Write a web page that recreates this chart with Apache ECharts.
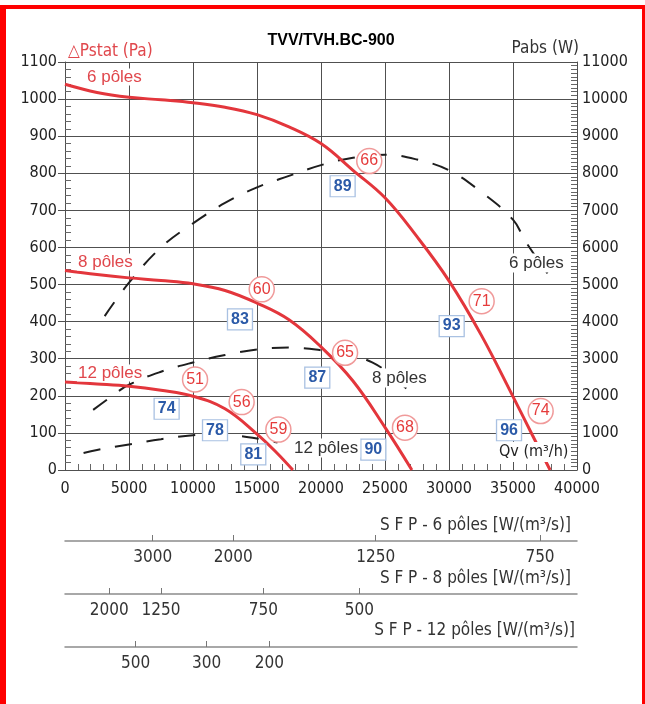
<!DOCTYPE html>
<html><head><meta charset="utf-8">
<script src="https://cdn.jsdelivr.net/npm/echarts@6/dist/echarts.min.js"></script>
<style>
html,body{margin:0;padding:0;background:#fff;}
#frame{position:absolute;left:0;top:5px;width:645px;height:720px;box-sizing:border-box;border-left:6px solid #f00;border-top:4px solid #f00;border-right:3px solid #f00;}
#chart{position:absolute;left:0;top:0;width:645px;height:704px;}
</style></head><body><div id="frame"></div><div id="chart"></div>
<script>
// ---- pressure curves (Qv m3/h -> Pa)
const flow6 = [0,2500,5000,7500,10000,12500,15000,17500,20000,22500,25000,27500,30000,32500,35000,36500,37900];
const pres6 = [1040,1018,1005,998,990,978,958,925,880,808,734,629,510,365,198,95,0];
const flow8 = [0,2500,5000,7500,10000,12500,15000,17500,20000,22500,25000,27100];
const pres8 = [538,527,518,511,502,484,450,405,332,240,115,0];
const flow12 = [0,2500,5000,7500,10000,12500,15000,16500,17800];
const pres12 = [237,232,226,215,199,165,97,48,0];
// ---- absorbed power curves (Qv m3/h -> W)
const flowP6 = [3100,5000,7500,10000,12500,15000,17500,20000,22500,25000,27500,30000,32500,35000,36000,37700];
const pow6 = [4150,5050,6000,6650,7200,7620,7930,8220,8420,8500,8370,8080,7500,6750,6150,5300];
const flowP8 = [2200,3500,5000,7500,10000,12500,15000,17500,20000,22500,24000,25500,27000];
const pow8 = [1620,1950,2300,2650,2900,3100,3250,3300,3230,3080,2900,2560,2080];
const flowP12 = [1450,2500,5000,7500,10000,12000,13500,15000,16600];
const pow12 = [460,540,690,830,940,960,925,850,740];
// ---- sound level circles [Qv, Pa, label]
const soundQ = [23770,15370,21880,10160,13800,16670,26560,32550,37160];
const soundP = [833,487,316,244,183,109,114,455,159];
const soundTxt = ['66','60','65','51','56','59','68','71','74'];
// ---- efficiency boxes
const effQ = [21690,13670,19710,7940,11720,14710,24090,30210,34690];
const effP = [765,406,249,165,107,42,55,388,107];
const effTxt = ['89','83','87','74','78','81','90','93','96'];
// ---- SFP scales (tick position in Qv, label)
const sfp6Flow = [6850,13150,24270,37110];
const sfp6Lab = ['3000','2000','1250','750'];
const sfp8Flow = [3460,7500,15490,22990];
const sfp8Lab = ['2000','1250','750','500'];
const sfp12Flow = [5520,11070,15960];
const sfp12Lab = ['500','300','200'];
// ---- axis ticks
const xTicks = [0,5000,10000,15000,20000,25000,30000,35000,40000];

const FN = '"DejaVu Sans Condensed","Liberation Sans",sans-serif';
const FA = '"Liberation Sans",Arial,sans-serif';
const pair = (a,b)=>a.map((v,i)=>[v,b[i]]);
const trip = (a,b,c)=>a.map((v,i)=>[v,b[i],c[i]]);
const lookup = (pos,lab)=>v=>{let bi=0,bd=1e12;pos.forEach((p,i)=>{const d=Math.abs(p-v);if(d<bd){bd=d;bi=i;}});return lab[bi];};
const plain = v=>String(Math.round(v));

const GRID='#505050';
function sfpAxis(g,pos,lab){
  return {gridIndex:g,type:'value',min:0,max:40000,
    axisLine:{show:true,lineStyle:{color:'#8c8c8c',width:1.5}},
    axisTick:{show:true,inside:true,length:6,customValues:pos,lineStyle:{color:'#777',width:1}},
    axisLabel:{show:true,customValues:pos,formatter:lookup(pos,lab),fontFamily:FN,fontSize:17,color:'#333',margin:8},
    splitLine:{show:false}};
}
const redLine=(d)=>({type:'line',xAxisIndex:0,yAxisIndex:0,data:d,smooth:0.4,symbol:'none',z:3,
  lineStyle:{color:'#e3363c',width:3}});
const dashLine=(d)=>({type:'line',xAxisIndex:0,yAxisIndex:1,data:d,smooth:0.4,symbol:'none',z:2,
  lineStyle:{color:'#1e1e1e',width:2,type:[17,15]}});
const txt=(t,x,y,opt)=>({type:'text',x:x,y:y,z:50,style:Object.assign({text:t,verticalAlign:'middle',align:'left'},opt)});

const chart = echarts.init(document.getElementById('chart'),null,{renderer:'canvas'});
chart.setOption({
  animation:false,
  grid:[
    {left:65,right:68,top:62,bottom:234},
    {left:65,right:68,top:540,height:1},
    {left:65,right:68,top:593,height:1},
    {left:65,right:68,top:646,height:1}
  ],
  xAxis:[
    {gridIndex:0,type:'value',min:0,max:40000,interval:5000,
      axisLine:{show:true,lineStyle:{color:GRID}},
      axisTick:{show:true,inside:true,length:6,lineStyle:{color:GRID}},
      minorTick:{show:true,splitNumber:5,length:6,lineStyle:{color:'#666'}},
      splitLine:{show:true,lineStyle:{color:GRID,width:1}},
      axisLabel:{fontFamily:FN,fontSize:16,color:'#222',margin:11,formatter:plain,customValues:xTicks}},
    sfpAxis(1,sfp6Flow,sfp6Lab),
    sfpAxis(2,sfp8Flow,sfp8Lab),
    sfpAxis(3,sfp12Flow,sfp12Lab)
  ],
  yAxis:[
    {gridIndex:0,type:'value',min:0,max:1100,interval:100,position:'left',
      axisLine:{show:true,lineStyle:{color:GRID}},
      axisTick:{show:true,length:7,lineStyle:{color:GRID}},
      axisLabel:{fontFamily:FN,fontSize:16,color:'#222',margin:8,formatter:plain},
      splitLine:{show:true,lineStyle:{color:GRID,width:1}}},
    {gridIndex:0,type:'value',min:0,max:11000,interval:1000,position:'right',
      axisLine:{show:true,lineStyle:{color:GRID}},
      axisTick:{show:true,inside:true,length:6,lineStyle:{color:GRID}},
      minorTick:{show:true,splitNumber:10,length:6,lineStyle:{color:'#666'}},
      axisLabel:{fontFamily:FN,fontSize:16,color:'#222',margin:5,formatter:plain},
      splitLine:{show:false}},
    {gridIndex:0,type:'value',min:0,max:1100,interval:100,position:'left',
      axisLine:{show:false},axisLabel:{show:false},
      axisTick:{show:true,inside:true,length:6,lineStyle:{color:GRID}},
      minorTick:{show:true,splitNumber:5,length:6,lineStyle:{color:'#666'}},
      splitLine:{show:false}},
    {gridIndex:1,type:'value',show:false},
    {gridIndex:2,type:'value',show:false},
    {gridIndex:3,type:'value',show:false}
  ],
  series:[
    dashLine(pair(flowP6,pow6)),
    dashLine(pair(flowP8,pow8)),
    dashLine(pair(flowP12,pow12)),
    redLine(pair(flow6,pres6)),
    redLine(pair(flow8,pres8)),
    redLine(pair(flow12,pres12)),
    {type:'scatter',xAxisIndex:0,yAxisIndex:0,z:6,symbol:'circle',symbolSize:25,
      data:trip(soundQ,soundP,soundTxt),
      itemStyle:{color:'#fff',borderColor:'#f09a9a',borderWidth:1.5,opacity:1},
      label:{show:true,position:'inside',formatter:p=>p.data[2],color:'#e53b3b',fontFamily:FA,fontSize:16}},
    {type:'scatter',xAxisIndex:0,yAxisIndex:0,z:6,symbol:'rect',symbolSize:[25,21],
      data:trip(effQ,effP,effTxt),
      itemStyle:{color:'#fff',borderColor:'#a9c1e2',borderWidth:1.2,opacity:1},
      label:{show:true,position:'inside',formatter:p=>p.data[2],color:'#2b5aa8',fontFamily:FA,fontWeight:'bold',fontSize:16}}
  ],
  graphic:[
    txt('TVV/TVH.BC-900',331,41,{align:'center',font:'bold 16px '+FA,fill:'#000'}),
    txt('\u25B3Pstat (Pa)',68,52,{font:'17px '+FN,fill:'#e0474c'}),
    txt('Pabs (W)',579,49,{align:'right',font:'17px '+FN,fill:'#333'}),
    txt('6 pôles',86,77,{font:'17px '+FA,fill:'#e0474c',backgroundColor:'#fff',padding:[0,1]}),
    txt('8 pôles',77,262,{font:'17px '+FA,fill:'#e0474c',backgroundColor:'#fff',padding:[0,1]}),
    txt('12 pôles',77,373,{font:'17px '+FA,fill:'#e0474c',backgroundColor:'#fff',padding:[0,1]}),
    txt('6 pôles',507,263,{font:'17px '+FA,fill:'#333',backgroundColor:'#fff',padding:[1,2]}),
    txt('8 pôles',370,378,{font:'17px '+FA,fill:'#333',backgroundColor:'#fff',padding:[1,2]}),
    txt('12 pôles',292,448,{font:'17px '+FA,fill:'#333',backgroundColor:'#fff',padding:[1,2]}),
    txt('Qv (m\u00B3/h)',497,452,{font:'16px '+FN,fill:'#222',backgroundColor:'#fff',padding:[2,2]}),
    txt('S F P - 6 pôles [W/(m\u00B3/s)]',571,526,{align:'right',font:'17px '+FN,fill:'#333'}),
    txt('S F P - 8 pôles [W/(m\u00B3/s)]',571,579,{align:'right',font:'17px '+FN,fill:'#333'}),
    txt('S F P - 12 pôles [W/(m\u00B3/s)]',575,631,{align:'right',font:'17px '+FN,fill:'#333'})
  ]
});
</script></body></html>
